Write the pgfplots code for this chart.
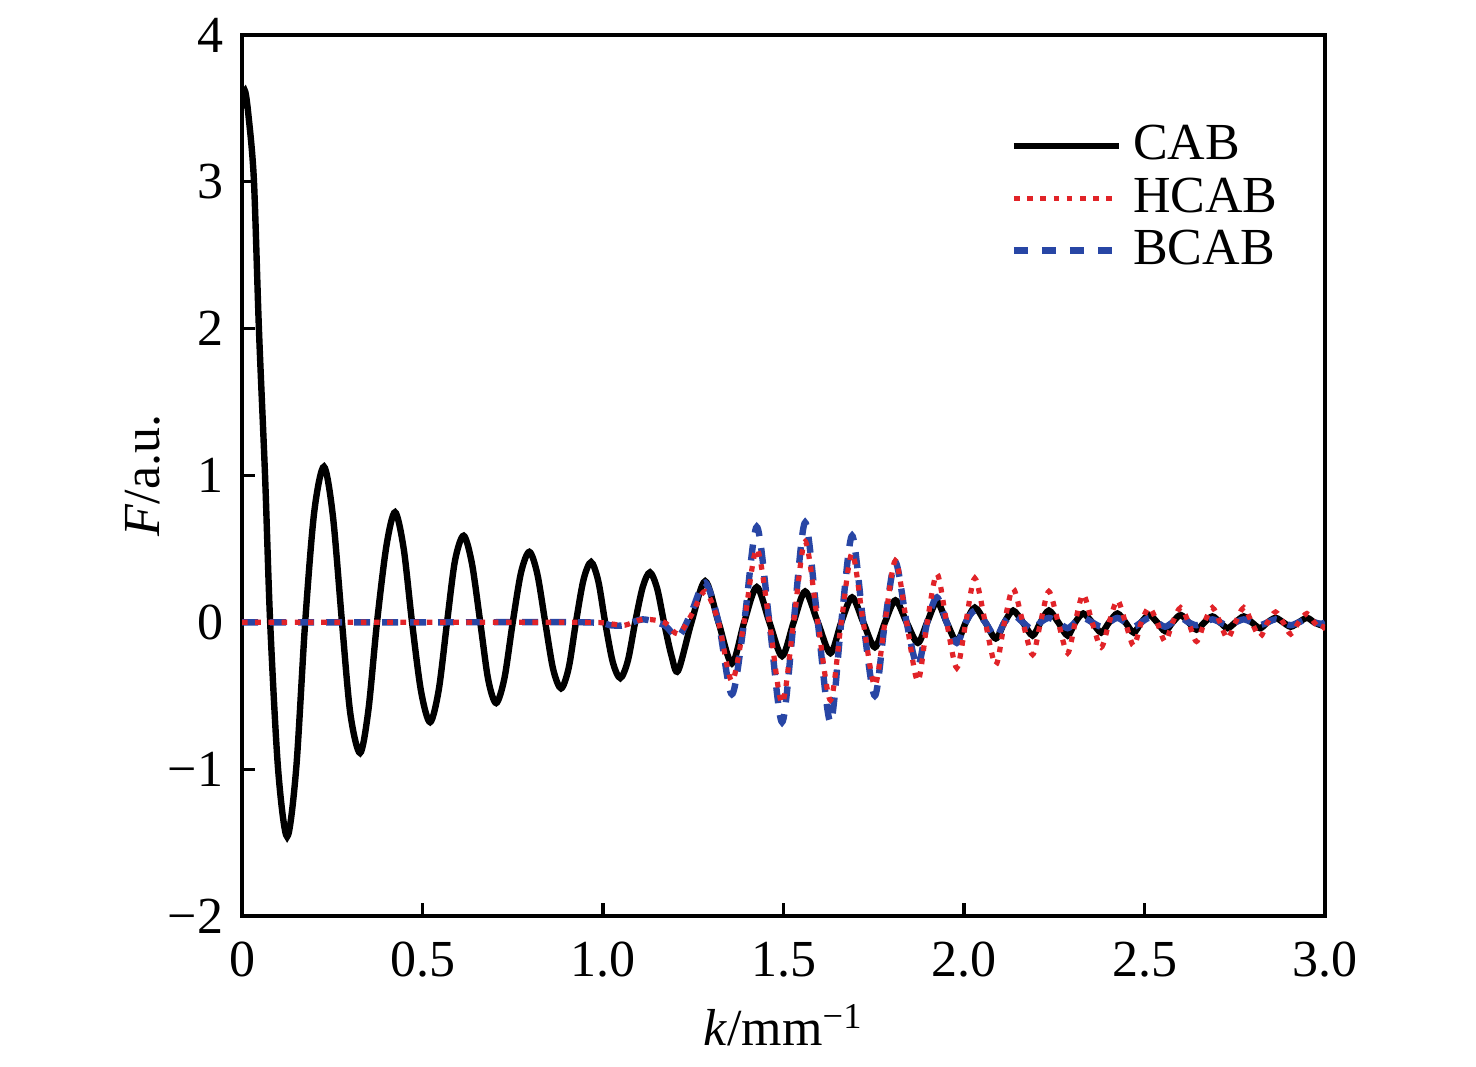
\documentclass[border=0pt]{standalone}
\usepackage{fontspec}
\setmainfont{Liberation Serif}
\usepackage{pgfplots}
\pgfplotsset{compat=1.18}
\usepackage{pgfplotstable}
\definecolor{myred}{RGB}{225,35,40}
\definecolor{myblue}{RGB}{40,70,165}

\pgfplotstableread{
x y
0 3.50
0.008 3.62
0.018 3.45
0.033 3.01
0.047 1.99
0.064 0.99
0.078 0
0.10 -1.0
0.125 -1.46
0.15 -1.0
0.175 0
0.20 0.75
0.227 1.06
0.252 0.72
0.277 0
0.30 -0.62
0.327 -0.89
0.35 -0.6
0.374 0
0.40 0.52
0.424 0.75
0.448 0.5
0.471 0
0.496 -0.47
0.521 -0.68
0.545 -0.46
0.568 0
0.59 0.42
0.614 0.59
0.637 0.4
0.66 0
0.682 -0.39
0.704 -0.55
0.727 -0.38
0.75 0
0.773 0.34
0.796 0.48
0.818 0.33
0.84 0
0.862 -0.32
0.884 -0.45
0.905 -0.31
0.925 0
0.946 0.29
0.967 0.41
0.987 0.28
1.006 0
1.027 -0.27
1.048 -0.38
1.069 -0.26
1.089 0
1.11 0.24
1.13 0.34
1.15 0.23
1.169 0
1.19 -0.23
1.208 -0.33
1.245 0
1.283 0.28
1.32 0
1.357 -0.28
1.391 0
1.426 0.24
1.461 0
1.496 -0.23
1.528 0
1.56 0.21
1.595 0
1.63 -0.21
1.66 0
1.69 0.17
1.721 0
1.753 -0.17
1.781 0
1.81 0.15
1.841 0
1.872 -0.14
1.898 0
1.925 0.14
1.952 0
1.98 -0.13
2.005 0
2.03 0.10
2.059 0
2.088 -0.11
2.112 0
2.136 0.08
2.163 0
2.19 -0.09
2.212 0
2.235 0.08
2.261 0
2.287 -0.09
2.308 0
2.33 0.06
2.355 0
2.38 -0.07
2.402 0
2.425 0.06
2.447 0
2.47 -0.07
2.491 0
2.513 0.05
2.535 0
2.557 -0.06
2.578 0
2.60 0.05
2.622 0
2.644 -0.05
2.666 0
2.688 0.04
2.709 0
2.73 -0.04
2.752 0
2.775 0.04
2.797 0
2.82 -0.04
2.841 0
2.863 0.03
2.884 0
2.905 -0.03
2.927 0
2.95 0.03
2.97 0
2.99 -0.02
3.0 -0.01
}\cab

\pgfplotstableread{
x h b
0 0 0
0.5 0 0
0.95 0 0
1.02 -0.01 -0.02
1.06 -0.02 -0.02
1.11 0.02 0.02
1.17 0 -0.02
1.208 -0.08 -0.10
1.245 0.05 0.07
1.283 0.21 0.27
1.32 0 0
1.357 -0.40 -0.49
1.391 0 0
1.426 0.50 0.65
1.461 0 0
1.496 -0.55 -0.68
1.528 0 0
1.56 0.55 0.68
1.595 0 0
1.63 -0.53 -0.68
1.66 0 0
1.69 0.47 0.59
1.721 0 0
1.753 -0.43 -0.50
1.781 0 0
1.81 0.42 0.41
1.841 0 0
1.872 -0.40 -0.30
1.898 0 0
1.925 0.33 0.17
1.952 0 0
1.98 -0.31 -0.14
2.005 0 0
2.03 0.30 0.08
2.059 0 0
2.088 -0.29 -0.10
2.112 0 0
2.136 0.23 0.05
2.163 0 0
2.19 -0.22 -0.05
2.212 0 0
2.235 0.21 0.03
2.261 0 0
2.287 -0.21 -0.04
2.308 0 0
2.33 0.19 0.03
2.355 0 0
2.38 -0.17 -0.03
2.402 0 0
2.425 0.15 0.03
2.447 0 0
2.47 -0.16 -0.03
2.491 0 0
2.513 0.10 0.03
2.535 0 0
2.557 -0.13 -0.03
2.578 0 0
2.60 0.10 0.03
2.622 0 0
2.644 -0.13 -0.02
2.666 0 0
2.688 0.10 0.02
2.709 0 0
2.73 -0.11 -0.02
2.752 0 0
2.775 0.10 0.02
2.797 0 0
2.82 -0.10 -0.02
2.841 0 0
2.863 0.07 0.02
2.884 0 0
2.905 -0.08 -0.02
2.927 0 0
2.95 0.06 0.02
2.97 0 0
2.99 -0.05 -0.01
3.0 0 0
}\hb

\begin{document}
\begin{tikzpicture}[font=\fontsize{13}{15.6}\selectfont]
\path[use as bounding box] (-60.5pt,-37.75pt) rectangle (308.5pt,229pt);
\begin{axis}[
  at={(0pt,0pt)}, anchor=south west,
  scale only axis, width=270.75pt, height=220.25pt,
  xmin=0, xmax=3, ymin=-2, ymax=4,
  xtick={0,0.5,1,1.5,2,2.5,3},
  xticklabels={0,0.5,1.0,1.5,2.0,2.5,3.0},
  ytick={-2,-1,0,1,2,3,4},
  yticklabels={−2,−1,0,1,2,3,4},
  xtick pos=bottom, ytick pos=left, tick align=inside,
  major tick length=3.3pt,
  axis line style={line width=0.9pt},
  every tick/.style={black, line width=0.8pt},
  tick label style={font=\fontsize{13}{15.6}\selectfont},
  xticklabel style={yshift=-3pt},
  yticklabel style={xshift=-1.2pt},
  xlabel={\textit{k}/mm\textsuperscript{−1}},
  ylabel={\textit{F}/a.u.},
  xlabel style={at={(axis description cs:0.5,-0.124)}, anchor=center},
  ylabel style={at={(axis description cs:-0.0914,0.5)}, anchor=center},
  legend style={at={(0.698,0.914)}, anchor=north west, draw=none, fill=none,
    font=\fontsize{13}{15.6}\selectfont, row sep=0pt,
    nodes={inner sep=1.5pt}},
  legend cell align=left,
  legend image code/.code={\draw[#1] (0pt,0pt) -- (26.3pt,0pt); \path (27.5pt,0pt);},
]
\addlegendimage{black, line width=1.6pt}
\addlegendentry{CAB}
\addlegendimage{myred, line width=1.3pt, dash pattern=on 1.4pt off 1.9pt}
\addlegendentry{HCAB}
\addlegendimage{myblue, line width=1.6pt, dash pattern=on 3.5pt off 3.5pt}
\addlegendentry{BCAB}
\addplot[black, line width=1.6pt, smooth, forget plot] table[x=x,y=y] {\cab};
\addplot[myblue, line width=1.6pt, dash pattern=on 4pt off 3pt, smooth, forget plot] table[x=x,y=b] {\hb};
\addplot[myred, line width=1.3pt, dash pattern=on 1.4pt off 1.9pt, smooth, forget plot] table[x=x,y=h] {\hb};
\end{axis}
\end{tikzpicture}
\end{document}
